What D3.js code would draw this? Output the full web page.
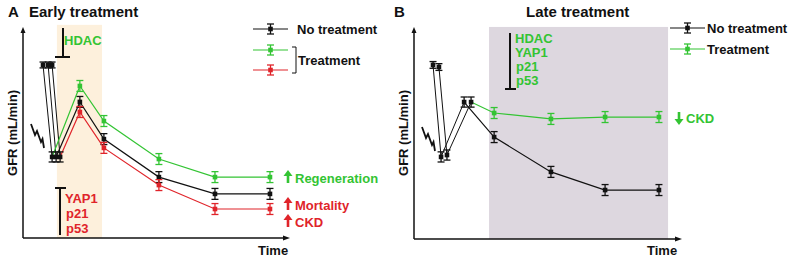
<!DOCTYPE html>
<html>
<head>
<meta charset="utf-8">
<script src="https://cdn.jsdelivr.net/npm/d3@7"></script>
<style>
body { margin: 0; background: #fff; }
text { font-family: "Liberation Sans", Arial, sans-serif; font-weight: bold; }
</style>
</head>
<body>
<script>
// panel A: early treatment (time in arbitrary units, GFR in % of max)
var aTimeGreen = [7.5, 10.9, 21.3, 30.3, 50.9, 71.9, 92.5]
var aGfrGreen  = [82.4, 38.6, 72.4, 55.7, 37.6, 29.0, 29.0]
var aTimeBlack = [9.4, 12.4, 21.3, 30.3, 50.9, 71.9, 92.5]
var aGfrBlack  = [82.4, 38.6, 64.8, 47.1, 29.0, 21.0, 21.0]
var aTimeRed   = [10.9, 13.9, 21.3, 30.3, 50.9, 71.9, 92.5]
var aGfrRed    = [82.4, 38.6, 60.0, 42.9, 25.2, 13.8, 13.8]
var aErr       = [1.4, 2.4, 2.6, 2.6, 2.6, 2.6, 2.6]
var aWindow    = [12.7, 29.6]

// panel B: late treatment
var bTimeBlack = [7.1, 10.1, 18.7, 29.9, 51.1, 71.3, 91.4]
var bGfrBlack  = [82.5, 38.9, 64.9, 48.3, 31.8, 23.2, 23.2]
var bTimeGreen = [9.3, 12.3, 21.3, 29.9, 51.1, 71.3, 91.4]
var bGfrGreen  = [81.5, 39.8, 64.9, 59.7, 56.9, 57.8, 57.8]
var bErr       = [1.6, 2.4, 2.4, 2.6, 2.6, 2.6, 2.6]
var bWindow    = [28, 94.8]

var BLACK = "#111", GREEN = "#33c433", RED = "#e0242a"

var svg = d3.select("body").append("svg")
    .attr("width", 798)
    .attr("height", 263)

function zip(ts, vs, es){
    return ts.map(function(t,i){ return {t: t, v: vs[i], e: es[i], i: i}; })
}

function errorBar(g, x, y, color){
    var cap = 3.5
    g.append("line").attr("x1", x).attr("x2", x).attr("y1", y[0]).attr("y2", y[2])
	.attr("stroke", color).attr("stroke-width", 1.3)
    g.append("line").attr("x1", x - cap).attr("x2", x + cap).attr("y1", y[0]).attr("y2", y[0])
	.attr("stroke", color).attr("stroke-width", 1.3)
    g.append("line").attr("x1", x - cap).attr("x2", x + cap).attr("y1", y[2]).attr("y2", y[2])
	.attr("stroke", color).attr("stroke-width", 1.3)
    g.append("rect").attr("x", x - 2.3).attr("y", y[1] - 2.3)
	.attr("width", 4.6).attr("height", 4.6).attr("fill", color)
}

function drawSeries(g, xs, ys, pts, color, treatFrom){
    var line = d3.line().x(function(d){return xs(d.t);}).y(function(d){return ys(d.v);})
    g.append("path").attr("d", line(pts.slice(0, treatFrom + 1)))
	.attr("fill", "none").attr("stroke", BLACK).attr("stroke-width", 1)
    g.append("path").attr("d", line(pts.slice(treatFrom)))
	.attr("fill", "none").attr("stroke", color).attr("stroke-width", 1.2)
    pts.forEach(function(d){
	var c = d.i <= treatFrom ? BLACK : color
	errorBar(g, xs(d.t), [ys(d.v + d.e), ys(d.v), ys(d.v - d.e)], c)
    })
}

function axes(g, x0, x1, y0, y1){
    g.append("line").attr("x1", x0).attr("x2", x0).attr("y1", y1 + 4).attr("y2", y0)
	.attr("stroke", BLACK).attr("stroke-width", 1.5)
    g.append("line").attr("x1", x0).attr("x2", x1 - 4).attr("y1", y0).attr("y2", y0)
	.attr("stroke", BLACK).attr("stroke-width", 1.5)
    g.append("path").attr("d", "M" + x0 + "," + y1 + "l-2.5,6h5z").attr("fill", BLACK)
    g.append("path").attr("d", "M" + x1 + "," + y0 + "l-7,-2.5v5z").attr("fill", BLACK)
}

function bolt(g, x, y){
    g.append("path")
	.attr("d", "M" + x + "," + y + "l4,11l2,-4l4,11l1.5,-3l1.5,9")
	.attr("fill", "none").attr("stroke", BLACK).attr("stroke-width", 1.8)
}

function arrow(g, x, yFrom, yTo, color){
    var dir = yTo > yFrom ? 1 : -1
    g.append("line").attr("x1", x).attr("x2", x).attr("y1", yFrom).attr("y2", yTo - dir * 5)
	.attr("stroke", color).attr("stroke-width", 2.6)
    g.append("path").attr("d", "M" + x + "," + yTo + "l-4.5," + (-dir * 6) + "h9z").attr("fill", color)
}

function label(g, x, y, txt, color, size, anchor){
    return g.append("text").attr("x", x).attr("y", y).text(txt)
	.attr("fill", color).attr("font-size", size).attr("text-anchor", anchor || "start")
}

function legendItem(g, x0, x1, y, color){
    g.append("line").attr("x1", x0).attr("x2", x1).attr("y1", y).attr("y2", y)
	.attr("stroke", color).attr("stroke-width", 1.2)
    errorBar(g, (x0 + x1) / 2, [y - 5, y, y + 5], color)
}

// ---------- panel A ----------
var gA = svg.append("g")
var xA = d3.scaleLinear().domain([0, 100]).range([23, 290])
var yA = d3.scaleLinear().domain([0, 100]).range([238, 28])

gA.append("rect").attr("x", xA(aWindow[0])).attr("y", yA(101.5))
    .attr("width", xA(aWindow[1]) - xA(aWindow[0])).attr("height", yA(0) - yA(101.5))
    .attr("fill", "#fdf0dc")

drawSeries(gA, xA, yA, zip(aTimeBlack, aGfrBlack, aErr), BLACK, 1)
drawSeries(gA, xA, yA, zip(aTimeRed, aGfrRed, aErr), RED, 1)
drawSeries(gA, xA, yA, zip(aTimeGreen, aGfrGreen, aErr), GREEN, 1)
axes(gA, 23, 290, 238, 27)
bolt(gA, 31, 124)

label(gA, 8, 17, "A", BLACK, 15)
label(gA, 29, 17, "Early treatment", BLACK, 15)
label(gA, 258, 255, "Time", BLACK, 13)
label(gA, 0, 0, "GFR (mL/min)", BLACK, 13, "middle")
    .attr("transform", "translate(17,133) rotate(-90)")

// inhibitor HDAC
gA.append("path").attr("d", "M63,28V57M55,57H70").attr("stroke", BLACK).attr("stroke-width", 2).attr("fill", "none")
label(gA, 64, 45, "HDAC", GREEN, 13)
// inhibitor YAP1/p21/p53
gA.append("path").attr("d", "M60,235V188M55,188H66").attr("stroke", BLACK).attr("stroke-width", 2).attr("fill", "none")
label(gA, 65, 203, "YAP1", RED, 13)
label(gA, 66, 218, "p21", RED, 13)
label(gA, 66, 233, "p53", RED, 13)

legendItem(gA, 253, 288, 29, BLACK)
legendItem(gA, 253, 288, 50, GREEN)
legendItem(gA, 253, 288, 70, RED)
label(gA, 297, 34, "No treatment", BLACK, 13)
gA.append("path").attr("d", "M292,47H296V73H292").attr("stroke", BLACK).attr("stroke-width", 1).attr("fill", "none")
label(gA, 298, 65, "Treatment", BLACK, 13)

arrow(gA, 288, 183, 170, GREEN)
label(gA, 295, 183, "Regeneration", GREEN, 13)
arrow(gA, 288, 210, 197, RED)
label(gA, 295, 210, "Mortality", RED, 13)
arrow(gA, 288, 227, 214, RED)
label(gA, 295, 227, "CKD", RED, 13)

// ---------- panel B ----------
var gB = svg.append("g")
var xB = d3.scaleLinear().domain([0, 100]).range([414, 682])
var yB = d3.scaleLinear().domain([0, 100]).range([239, 28])

gB.append("rect").attr("x", xB(bWindow[0])).attr("y", yB(100.5))
    .attr("width", xB(bWindow[1]) - xB(bWindow[0])).attr("height", yB(0) - yB(100.5))
    .attr("fill", "#ddd7df")

drawSeries(gB, xB, yB, zip(bTimeBlack, bGfrBlack, bErr), BLACK, 2)
drawSeries(gB, xB, yB, zip(bTimeGreen, bGfrGreen, bErr), GREEN, 2)
axes(gB, 414, 682, 239, 27)
bolt(gB, 422, 127)

label(gB, 394, 17, "B", BLACK, 15)
label(gB, 526, 17, "Late treatment", BLACK, 15)
label(gB, 647, 255, "Time", BLACK, 13)
label(gB, 0, 0, "GFR (mL/min)", BLACK, 13, "middle")
    .attr("transform", "translate(408,133) rotate(-90)")

gB.append("path").attr("d", "M510,33V89M505,89H516").attr("stroke", BLACK).attr("stroke-width", 2).attr("fill", "none")
label(gB, 515, 43, "HDAC", GREEN, 13)
label(gB, 515, 57, "YAP1", GREEN, 13)
label(gB, 516, 71, "p21", GREEN, 13)
label(gB, 516, 85, "p53", GREEN, 13)

legendItem(gB, 670, 705, 28, BLACK)
legendItem(gB, 670, 705, 49, GREEN)
label(gB, 707, 33, "No treatment", BLACK, 13)
label(gB, 707, 54, "Treatment", BLACK, 13)

arrow(gB, 679, 112, 125, GREEN)
label(gB, 686, 123, "CKD", GREEN, 13)
</script>
</body>
</html>
